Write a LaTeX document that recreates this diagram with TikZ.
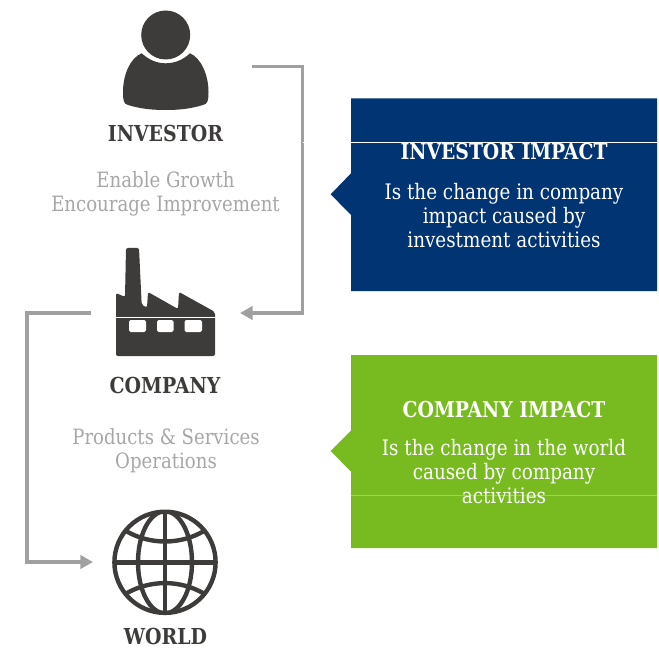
\documentclass[tikz,border=0pt]{standalone}
\usepackage{fontspec}
\setmainfont{DejaVu Serif}[FakeStretch=0.86]
\usetikzlibrary{arrows.meta}
\definecolor{icon}{HTML}{3D3C3B}
\definecolor{conn}{HTML}{A0A0A0}
\definecolor{subt}{HTML}{A6A6A6}
\definecolor{navy}{HTML}{003473}
\definecolor{leaf}{HTML}{78BB21}
\tikzset{
  px/.style={x=0.75pt,y=-0.75pt},
  iconfill/.style={fill=icon,draw=none},
  link/.style={draw=conn,line width=2.6pt,line join=miter,-{Triangle[length=9.5pt,width=10pt]}},
  heading/.style={font=\fontsize{16.5pt}{18pt}\selectfont\bfseries,text=icon,inner sep=0pt,align=center},
  subtext/.style={font=\fontsize{15.8pt}{18pt}\selectfont,text=subt,inner sep=0pt,align=center},
  boxhead/.style={font=\fontsize{16.4pt}{18pt}\selectfont\bfseries,text=white,inner sep=0pt,align=center},
  boxtext/.style={font=\fontsize{16pt}{18pt}\selectfont,text=white,inner sep=0pt,align=center},
  seam/.style={line width=0.6pt},
  globeline/.style={draw=icon,line width=3.3pt}
}
\begin{document}
\begin{tikzpicture}[px]
\useasboundingbox (0,0) rectangle (659,648);
% callout boxes
\fill[navy] (351,98.5) -- (657,98.5) -- (657,291) -- (351,291) -- (351,215) -- (330.7,194.3) -- (351,173.3) -- cycle;
\fill[leaf] (351,355) -- (657,355) -- (657,548) -- (351,548) -- (351,471.7) -- (330.7,451) -- (351,430.7) -- cycle;
% connectors
\coordinate (investorOut) at (252,66.5);
\coordinate (companyIn) at (240,313);
\coordinate (companyOut) at (91,313);
\coordinate (worldIn) at (93,562);
\coordinate (railA) at (302.5,66.5);
\coordinate (railB) at (302.5,313);
\coordinate (railC) at (27,313);
\coordinate (railD) at (27,562);
\draw[link] (investorOut) -- (railA) -- (railB) -- (companyIn);
\draw[link] (companyOut) -- (railC) -- (railD) -- (worldIn);
% investor icon
\fill[iconfill] (165.7,35) circle (24.5);
\fill[iconfill] (141.7,53.3) .. controls (149,60) and (157,63.3) .. (165.7,63.3)
  .. controls (174.5,63.3) and (183,60) .. (190,53.3)
  .. controls (201,58) and (208.5,75) .. (208.5,92)
  .. controls (208.5,100) and (208,104) .. (203,105)
  .. controls (190,109) and (178,110) .. (165.7,110)
  .. controls (153,110) and (141,109) .. (128,105)
  .. controls (123.5,104) and (123,100) .. (123,92)
  .. controls (123,75) and (130,58) .. (141.7,53.3) -- cycle;
% company icon
\fill[iconfill,rounded corners=1.5pt] (116,293) -- (125,297) -- (126,248) -- (139,248) -- (141.7,305) -- (147,307.5) -- (148,292) -- (178,309) -- (179,292) -- (215,312) -- (215,356) -- (116,356) -- cycle;
\fill[white,rounded corners=1.2pt] (129,320) rectangle (146,332);
\fill[white,rounded corners=1.2pt] (157,320) rectangle (173.5,332);
\fill[white,rounded corners=1.2pt] (184.5,320) rectangle (202,332);
\draw[white,seam] (116,317.7) -- (215,317.7);
% world icon
\begin{scope}
\clip (165,562.3) circle (51);
\draw[globeline] (165,510) -- (165,615);
\draw[globeline] (113,562.3) -- (217,562.3);
\draw[globeline] (165,562.3) ellipse (27 and 51);
\draw[globeline] (126,531) .. controls (150,545) and (180,545) .. (204,531);
\draw[globeline] (126,593.6) .. controls (150,579.6) and (180,579.6) .. (204,593.6);
\end{scope}
\draw[globeline] (165,562.3) circle (50.6);
% seams
\draw[white,seam] (303,142) -- (657,142);
% texts
\node[heading] (investor) at (165.5,133.5) {INVESTOR};
\node[subtext] (investorSub) at (165.5,193.5) {Enable Growth\\Encourage Improvement};
\node[heading] (company) at (165,385) {COMPANY};
\node[subtext] (companySub) at (166,451) {Products \& Services\\Operations};
\node[heading] (world) at (165.5,636.5) {WORLD};
\node[boxhead] (investorHead) at (504,152) {INVESTOR IMPACT};
\node[boxtext] (investorBody) at (504,215.5) {Is the change in company\\impact caused by\\investment activities};
\node[boxhead] (companyHead) at (504,410) {COMPANY IMPACT};
\node[boxtext] (companyBody) at (504,471.5) {Is the change in the world\\caused by company\\activities};
\draw[white,seam,opacity=.3] (351,495) -- (657,495);
\end{tikzpicture}
\end{document}
